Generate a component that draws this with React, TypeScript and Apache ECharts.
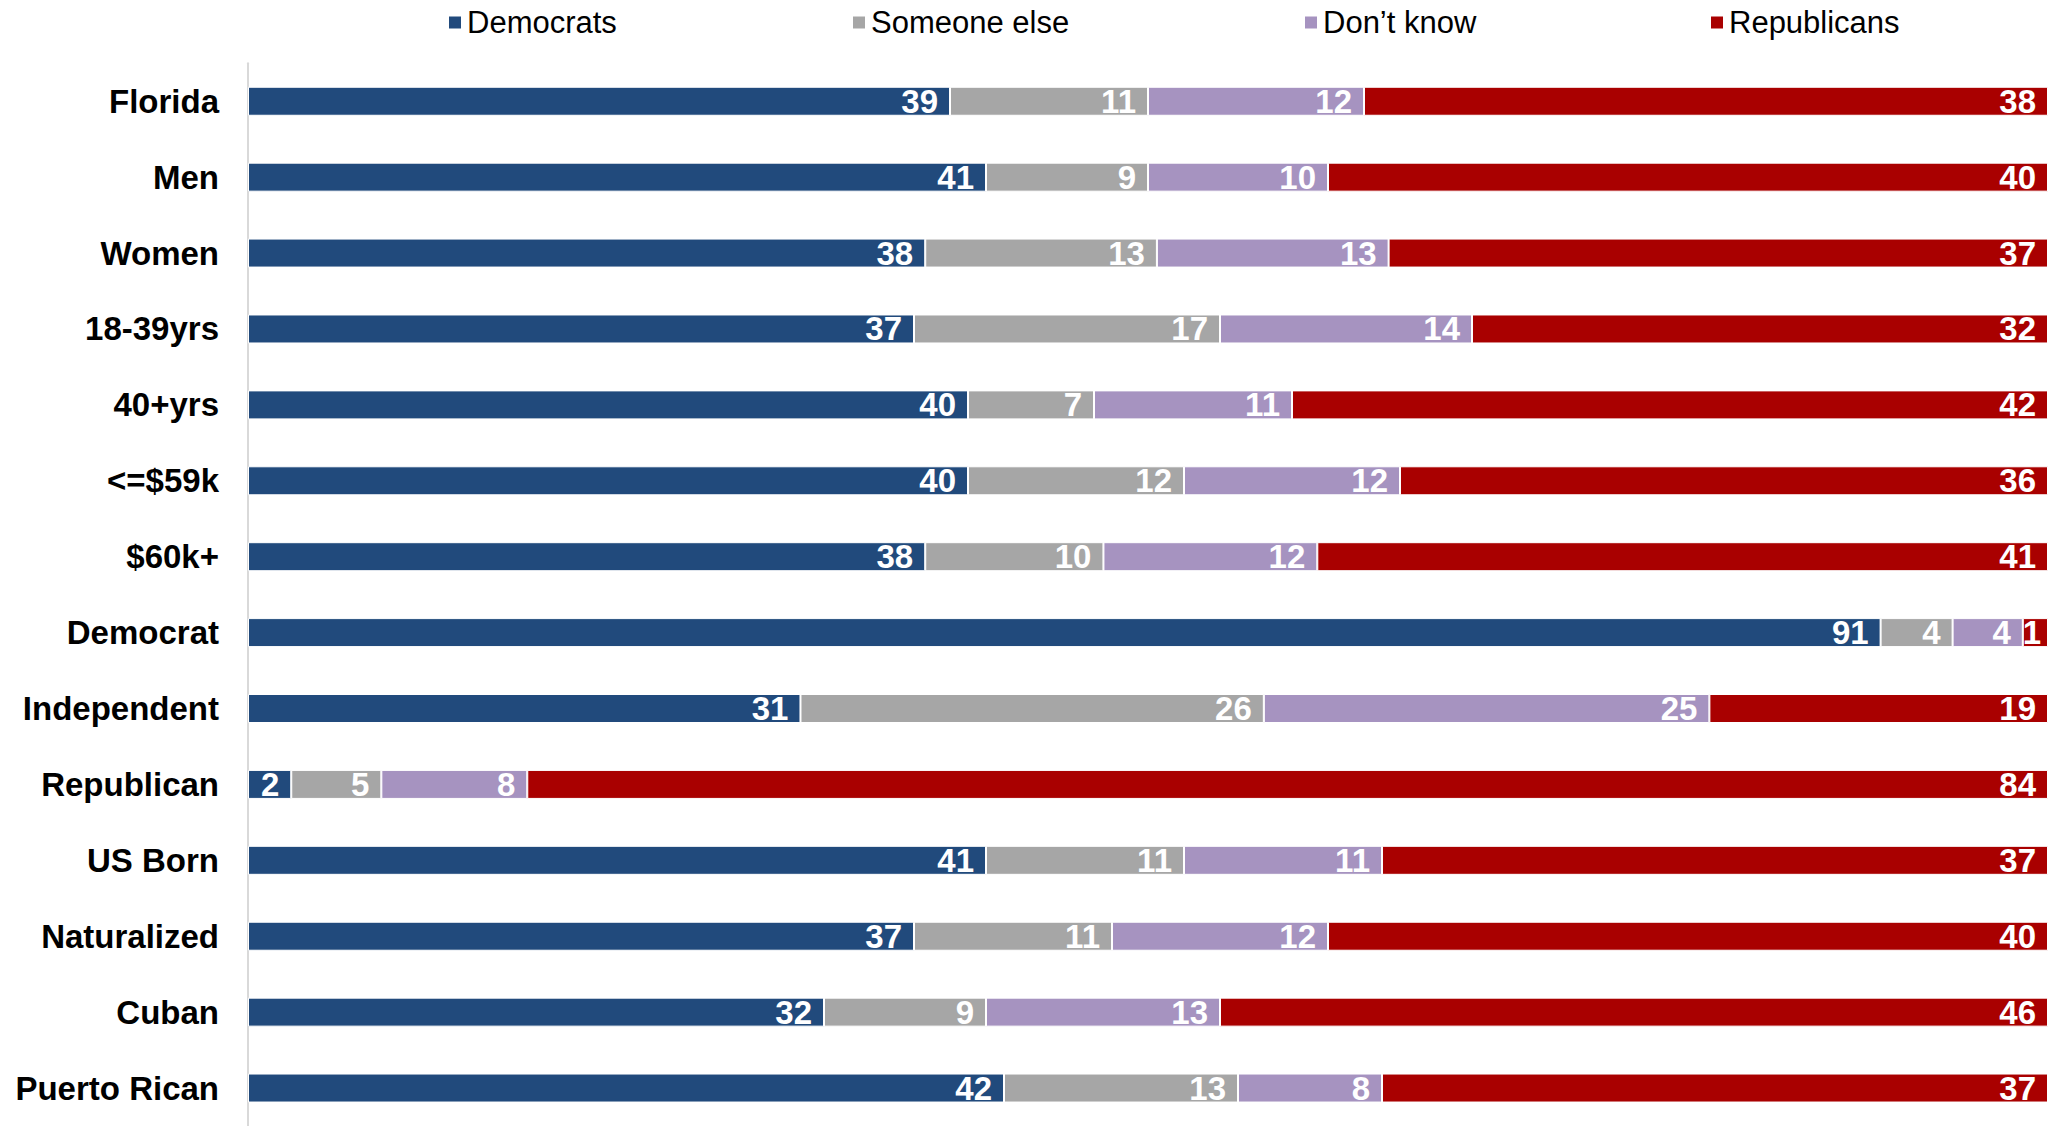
import React, { useEffect, useRef } from "react";
import * as echarts from "echarts";

const categories = [
  "Florida", "Men", "Women", "18-39yrs", "40+yrs", "<=$59k", "$60k+",
  "Democrat", "Independent", "Republican", "US Born", "Naturalized", "Cuban", "Puerto Rican",
];
// Shares (labels show them rounded)
const democrats = [39, 41, 38, 37, 40, 40, 38, 90.7, 31, 2.4, 41, 37, 32, 42];
const someoneElse = [11, 9, 13, 17, 7, 12, 10, 4.0, 26, 5.0, 11, 11, 9, 13];
const dontKnow = [12, 10, 13, 14, 11, 12, 12, 3.9, 25, 8.1, 11, 12, 13, 8];
const republicans = [38, 40, 37, 32, 42, 36, 41, 1.4, 19, 84.4, 37, 40, 46, 37];

const seriesNames = ["Democrats", "Someone else", "Don\u2019t know", "Republicans"];
const seriesColors = ["#214A7C", "#A6A6A6", "#A693C0", "#A90000"];
const legendLeft = [447, 851, 1303, 1709];

const FONT = "'Liberation Sans', Arial, sans-serif";

export default function App() {
  const ref = useRef<HTMLDivElement>(null);
  useEffect(() => {
    if (!ref.current) return;
    const chart = echarts.init(ref.current, null, { renderer: "svg" });
    const all = [democrats, someoneElse, dontKnow, republicans];
    const totals = categories.map((_, i) => all.reduce((s, arr) => s + arr[i], 0));
    const series = all.map((arr, si) => ({
      name: seriesNames[si],
      type: "bar",
      stack: "total",
      barWidth: 29,
      itemStyle: { color: seriesColors[si], borderColor: "#ffffff", borderWidth: 1 },
      label: {
        show: true,
        position: "insideRight",
        distance: 12,
        color: "#ffffff",
        fontFamily: FONT,
        fontWeight: "bold",
        fontSize: 33,
        formatter: (p: any) => String(Math.round(p.data.raw)),
      },
      data: arr.map((v, i) => {
        const share = v / totals[i];
        const item: any = { value: share, raw: v };
        if (share < 0.02) item.label = { distance: 7 };
        return item;
      }),
    }));
    chart.setOption({
      animation: false,
      backgroundColor: "#ffffff",
      legend: seriesNames.map((n, i) => ({
        data: [n],
        left: legendLeft[i],
        top: 7,
        padding: 0,
        itemWidth: 14,
        itemHeight: 14,
        icon: "rect",
        selectedMode: false,
        textStyle: { fontFamily: FONT, fontSize: 31, color: "#000000" },
      })),
      grid: { left: 248, right: 11, top: 63.3, height: 1069, containLabel: false },
      xAxis: { type: "value", min: 0, max: 1, show: false },
      yAxis: {
        type: "category",
        inverse: true,
        data: categories,
        axisLine: { show: true, lineStyle: { color: "#D9D9D9", width: 2 } },
        axisTick: { show: false },
        axisLabel: {
          margin: 29,
          color: "#000000",
          fontFamily: FONT,
          fontWeight: "bold",
          fontSize: 33,
        },
      },
      series,
    });
    return () => chart.dispose();
  }, []);
  return <div ref={ref} style={{ width: 2059, height: 1126, position: "absolute", left: 0, top: 0 }} />;
}
